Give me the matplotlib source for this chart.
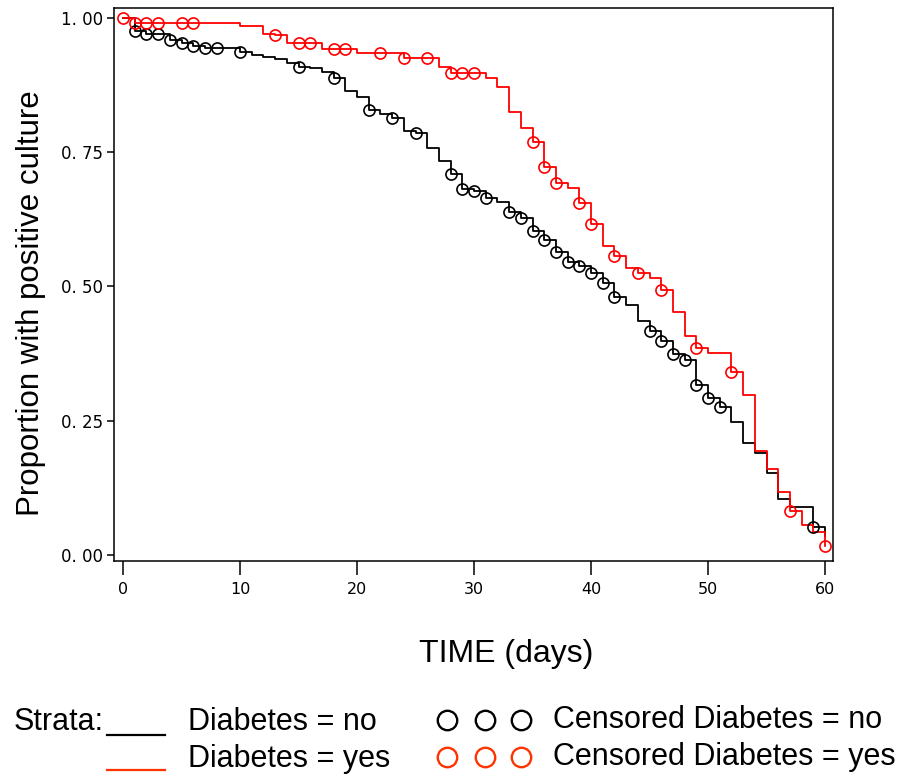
import matplotlib
matplotlib.use("Agg")
import matplotlib.pyplot as plt
from matplotlib.lines import Line2D
import numpy as np

# ---- data ----
days = list(range(0, 61))
surv_no = [1.000, 0.975, 0.970, 0.970, 0.959, 0.953, 0.948, 0.945, 0.945, 0.945,
           0.937, 0.932, 0.928, 0.924, 0.916, 0.909, 0.906, 0.900, 0.888, 0.864,
           0.853, 0.829, 0.821, 0.813, 0.790, 0.785, 0.757, 0.734, 0.709, 0.682,
           0.677, 0.664, 0.658, 0.639, 0.628, 0.604, 0.587, 0.564, 0.546, 0.538,
           0.525, 0.507, 0.480, 0.466, 0.436, 0.418, 0.398, 0.374, 0.364, 0.317,
           0.292, 0.276, 0.247, 0.208, 0.190, 0.152, 0.104, 0.090, 0.090, 0.053,
           0.035]
surv_yes = [1.000, 0.990, 0.990, 0.990, 0.990, 0.990, 0.990, 0.990, 0.990, 0.990,
            0.985, 0.985, 0.971, 0.968, 0.953, 0.953, 0.953, 0.943, 0.942, 0.942,
            0.934, 0.934, 0.934, 0.934, 0.925, 0.925, 0.925, 0.908, 0.898, 0.898,
            0.898, 0.889, 0.871, 0.824, 0.796, 0.769, 0.722, 0.693, 0.684, 0.656,
            0.616, 0.576, 0.556, 0.534, 0.525, 0.515, 0.494, 0.452, 0.408, 0.386,
            0.376, 0.376, 0.341, 0.298, 0.194, 0.161, 0.117, 0.081, 0.056, 0.043,
            0.016]
censor_no = [1, 2, 3, 4, 5, 6, 7, 8, 10, 15, 18, 21, 23, 25, 28, 29, 30, 31, 33, 34,
             35, 36, 37, 38, 39, 40, 41, 42, 45, 46, 47, 48, 49, 50, 51, 59]
censor_yes = [0, 1, 2, 3, 5, 6, 13, 15, 16, 18, 19, 22, 24, 26, 28, 29, 30, 35, 36,
              37, 39, 40, 42, 44, 46, 49, 52, 57, 60]
xticks = [0, 10, 20, 30, 40, 50, 60]
yticks = [0.0, 0.25, 0.5, 0.75, 1.0]
ytick_labels = ["0. 00", "0. 25", "0. 50", "0. 75", "1. 00"]

W, H = 907, 779
fig = plt.figure(figsize=(W / 100, H / 100), dpi=100)
fig.patch.set_facecolor("white")

def fx(x):
    return x / W

def fy(y):
    return 1 - y / H

ax = fig.add_axes([fx(114), fy(561), (833 - 114) / W, (561 - 8) / H])

col_no = "#000000"
col_yes = "#ff0000"

ax.step(days, surv_no, where="post", color=col_no, lw=1.3)
ax.step(days, surv_yes, where="post", color=col_yes, lw=1.3)

cn_y = [surv_no[d] for d in censor_no]
cy_y = [surv_yes[d] for d in censor_yes]
ax.plot(censor_no, cn_y, linestyle="none", marker="o", mfc="none",
        mec=col_no, ms=8, mew=1.2)
ax.plot(censor_yes, cy_y, linestyle="none", marker="o", mfc="none",
        mec=col_yes, ms=8, mew=1.2)

ax.set_xlim(-0.77, 60.68)
ax.set_ylim(-0.0112, 1.0186)
ax.set_xticks(xticks)
ax.set_xticklabels([str(t) for t in xticks], fontfamily="DejaVu Sans", fontsize=11.5)
ax.set_yticks(yticks)
ax.set_yticklabels(ytick_labels, fontfamily="DejaVu Sans", fontsize=12)
ax.tick_params(axis="x", direction="out", length=10, width=1.1, pad=5)
ax.tick_params(axis="y", direction="out", length=5, width=1.1, pad=3)
for s in ax.spines.values():
    s.set_linewidth(1.1)

fig.text(fx(506), fy(654), "TIME (days)", ha="center", va="center",
         fontfamily="Liberation Sans", fontsize=23)
fig.text(fx(31), fy(303), "Proportion with positive culture", ha="center",
         va="center", rotation=90, fontfamily="Liberation Sans", fontsize=22.5)

# ---- legend ----
leg_red = "#ff3300"
fs = 22
fig.text(fx(14), fy(722), "Strata:", ha="left", va="center",
         fontfamily="Liberation Sans", fontsize=fs)
fig.add_artist(Line2D([fx(107), fx(165)], [fy(735), fy(735)], color="black",
                      lw=1.6, transform=fig.transFigure))
fig.add_artist(Line2D([fx(107), fx(165)], [fy(770), fy(770)], color=leg_red,
                      lw=1.6, transform=fig.transFigure))
fig.text(fx(188), fy(722), "Diabetes = no", ha="left", va="center",
         fontfamily="Liberation Sans", fontsize=fs)
fig.text(fx(188), fy(759), "Diabetes = yes", ha="left", va="center",
         fontfamily="Liberation Sans", fontsize=fs)
for cx in (447, 485, 521):
    fig.add_artist(Line2D([fx(cx)], [fy(720)], marker="o", mfc="none",
                          mec="black", ms=14, mew=1.7, transform=fig.transFigure))
    fig.add_artist(Line2D([fx(cx)], [fy(757)], marker="o", mfc="none",
                          mec=leg_red, ms=14, mew=1.7, transform=fig.transFigure))
fig.text(fx(553), fy(720), "Censored Diabetes = no", ha="left", va="center",
         fontfamily="Liberation Sans", fontsize=fs)
fig.text(fx(553), fy(757), "Censored Diabetes = yes", ha="left", va="center",
         fontfamily="Liberation Sans", fontsize=fs)

fig.savefig("out.png", dpi=100, facecolor="white")
